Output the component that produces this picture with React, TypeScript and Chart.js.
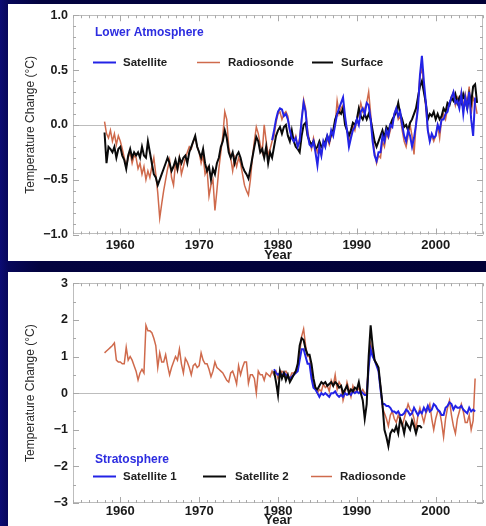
import React, { useEffect, useRef } from "react";
import { Chart, registerables } from "chart.js";

Chart.register(...registerables);

const FONT = "'Liberation Sans', Arial, Helvetica, sans-serif";

// ---------- axes ----------
const xMin = 1954;
const xMax = 2006;
const xTickYears = [1960, 1970, 1980, 1990, 2000];
const lowerYTicks = [-1, -0.5, 0, 0.5, 1];
const stratYTicks = [-3, -2, -1, 0, 1, 2, 3];
const STEP = 0.25; // quarterly data spacing (years)

// ---------- Lower Atmosphere ----------
const lowerRadiosondeStart = 1958.0;
const lowerRadiosonde = [
  0.03, -0.08, -0.12, -0.05,
  -0.15, -0.08, -0.18, -0.1,
  -0.15, -0.22, -0.3, -0.38,
  -0.3, -0.25, -0.35, -0.28,
  -0.3, -0.4, -0.35, -0.45,
  -0.38, -0.5, -0.42, -0.48,
  -0.38, -0.3, -0.45, -0.62,
  -0.85, -0.72, -0.6, -0.5,
  -0.4, -0.32, -0.48, -0.55,
  -0.35, -0.42, -0.3, -0.45,
  -0.38, -0.3, -0.25, -0.2,
  -0.22, -0.15, -0.12, -0.2,
  -0.25, -0.35, -0.28, -0.45,
  -0.4, -0.65, -0.55, -0.5,
  -0.78, -0.6, -0.4, -0.25,
  -0.1, 0.12, 0.05, -0.2,
  -0.3, -0.42, -0.3, -0.38,
  -0.3, -0.35, -0.45, -0.55,
  -0.6, -0.64, -0.5, -0.3,
  -0.15, -0.02, -0.08, -0.18,
  -0.25, 0.0, -0.15, -0.28,
  -0.22, -0.15, -0.1, 0.02,
  0.1, 0.12, 0.05, 0.1,
  0.12, 0.08, -0.05, -0.1,
  -0.15, -0.1, -0.2, -0.12,
  0.05, 0.23, 0.15, -0.05,
  -0.15, -0.22, -0.12, -0.2,
  -0.25, -0.18, -0.28, -0.15,
  -0.2, -0.12, -0.18, -0.1,
  -0.05, 0.0, 0.22, 0.1,
  0.15, 0.18, 0.05, -0.05,
  -0.15, -0.1, 0.0, -0.05,
  0.05, 0.1, 0.2, 0.12,
  0.15, 0.2, 0.3, 0.1,
  -0.1, -0.25, -0.35, -0.28,
  -0.3, -0.15, -0.2, -0.08,
  -0.12, -0.05, 0.02, 0.1,
  0.15, 0.05, 0.08, -0.05,
  -0.15, -0.2, -0.1, 0.0,
  -0.1, -0.27, 0.0, 0.2,
  0.45, 0.52, 0.35, 0.15,
  -0.05, -0.12, -0.1, -0.15,
  -0.1, 0.0, -0.12, 0.05,
  0.1, 0.05, 0.15, 0.2,
  0.25, 0.3, 0.18, 0.25,
  0.2, 0.3, 0.15, 0.28,
  0.2, 0.35, 0.1, 0.25,
  0.2, 0.1,
];

const lowerSurfaceStart = 1958.0;
const lowerSurface = [
  -0.07, -0.35, -0.2, -0.22,
  -0.25, -0.2, -0.3, -0.22,
  -0.2, -0.28, -0.32, -0.4,
  -0.28, -0.22, -0.3, -0.25,
  -0.28, -0.25, -0.3, -0.2,
  -0.28, -0.3, -0.15, -0.25,
  -0.35, -0.45, -0.48, -0.55,
  -0.5, -0.45, -0.4, -0.35,
  -0.3, -0.35, -0.42, -0.38,
  -0.32, -0.4, -0.3, -0.35,
  -0.3, -0.28, -0.35, -0.25,
  -0.2, -0.15, -0.1, -0.2,
  -0.25, -0.3, -0.22, -0.35,
  -0.42, -0.38, -0.5, -0.4,
  -0.45, -0.35, -0.3, -0.2,
  -0.15, -0.05, -0.12, -0.25,
  -0.3, -0.25, -0.35, -0.28,
  -0.25, -0.3, -0.38, -0.42,
  -0.45, -0.49, -0.4, -0.3,
  -0.2, -0.11, -0.15, -0.25,
  -0.22, -0.3, -0.2, -0.35,
  -0.25, -0.3, -0.2, -0.1,
  -0.05, -0.02, -0.08, -0.02,
  0.0, -0.1, -0.15, -0.05,
  -0.15, -0.2, -0.22, -0.25,
  -0.1, 0.0, 0.02, -0.1,
  -0.15, -0.18, -0.15, -0.22,
  -0.2, -0.15, -0.2, -0.18,
  -0.15, -0.1, -0.15, -0.08,
  -0.05, 0.05, 0.1, 0.12,
  0.1, 0.15, 0.0, -0.05,
  -0.1, -0.05, 0.02, 0.0,
  0.05, 0.15, 0.08, 0.05,
  0.1, 0.05, 0.1, 0.05,
  -0.05, -0.15, -0.2, -0.15,
  -0.1, -0.05, -0.12, -0.02,
  -0.05, 0.0, 0.05, 0.08,
  0.12, 0.2, 0.1, 0.05,
  -0.02, 0.0, -0.05, 0.02,
  0.05, 0.1, 0.15, 0.25,
  0.35, 0.4, 0.3, 0.2,
  0.05, 0.1, 0.08, 0.12,
  0.05, 0.1, 0.05, 0.08,
  0.15, 0.12, 0.2, 0.18,
  0.25, 0.22, 0.28, 0.2,
  0.25, 0.2, 0.28, 0.22,
  0.15, 0.28, 0.2, 0.35,
  0.37, 0.2,
];

const lowerSatelliteStart = 1979.25;
const lowerSatellite = [
  -0.14, -0.05, 0.05,
  0.12, 0.15, 0.14, 0.08,
  0.1, 0.05, -0.05, -0.12,
  -0.15, -0.12, -0.2, -0.15,
  0.05, 0.2, 0.12, -0.08,
  -0.18, -0.2, -0.15, -0.25,
  -0.37, -0.2, -0.28, -0.15,
  -0.2, -0.1, -0.15, -0.05,
  -0.1, 0.0, 0.1, 0.15,
  0.2, 0.25, 0.08, -0.05,
  -0.2, -0.12, -0.05, -0.02,
  0.05, 0.0, 0.12, 0.15,
  0.1, 0.2, 0.18, 0.05,
  -0.15, -0.28, -0.33, -0.25,
  -0.25, -0.1, -0.15, -0.05,
  -0.1, 0.0, -0.02, 0.1,
  0.15, 0.08, 0.12, 0.0,
  -0.1, -0.15, -0.05, -0.1,
  -0.2, -0.12, 0.0, 0.15,
  0.45, 0.63, 0.4, 0.2,
  -0.05, -0.15, -0.08, -0.12,
  -0.1, 0.0, -0.05, 0.05,
  0.05, 0.1, 0.12, 0.2,
  0.25, 0.3, 0.2, 0.22,
  0.15, 0.28, 0.1, 0.25,
  0.15, 0.3, 0.05, -0.1,
  0.25,
];

// ---------- Stratosphere ----------
const stratRadiosondeStart = 1958.0;
const stratRadiosonde = [
  1.1, 1.15, 1.2, 1.25,
  1.3, 1.37, 0.9, 0.85,
  0.85, 0.8, 0.8, 1.25,
  0.9, 1.0, 0.9, 0.75,
  0.6, 0.36, 0.55, 0.65,
  0.55, 1.85, 1.7, 1.7,
  1.65, 1.5, 1.3, 0.7,
  1.1, 0.85, 0.85, 1.05,
  0.75, 0.5, 0.7, 0.85,
  1.0, 0.9, 1.2, 0.8,
  0.55, 0.95, 0.85, 0.7,
  0.5, 0.75, 0.8, 0.7,
  0.75, 1.1, 0.9, 0.8,
  0.8, 0.65, 0.45, 0.6,
  0.85, 0.7, 0.65, 0.6,
  0.55, 0.45, 0.35, 0.3,
  0.55, 0.6, 0.45, 0.25,
  0.75, 0.5, 0.7, 0.85,
  0.85, 0.27, 0.5, 0.5,
  0.4, 0.0, 0.6, 0.5,
  0.5, 0.35, 0.55, 0.5,
  0.45, 0.6, 0.5, 0.6,
  0.4, 0.5, 0.6, 0.55,
  0.6, 0.5, 0.4, 0.55,
  0.55, 0.6, 0.7, 1.1,
  1.55, 1.75, 1.3, 1.0,
  1.0, 0.6, 0.2, 0.15,
  0.0, 0.1, 0.05, 0.25,
  0.15, 0.2, 0.05, 0.35,
  0.2, 0.5, 0.1, 0.3,
  0.2, -0.2, 0.0, 0.3,
  0.1, -0.1, 0.2, 0.05,
  0.05, 0.15, 0.0, 0.1,
  0.0, 0.0, 0.9, 1.35,
  1.1, 0.9, 0.8, 0.6,
  0.2, -0.4, -0.55, -0.7,
  -0.9, -0.6, -0.5, -0.7,
  -0.8, -0.6, -0.75, -0.9,
  -0.7, -0.5, -0.3, -0.45,
  -0.5, -0.7, -1.0, -0.6,
  -0.4, -0.6, -0.8, -0.55,
  -0.45, -0.3, -0.7, -1.0,
  -0.7, -0.5, -0.5, -0.8,
  -1.2, -0.7, -0.4, -0.2,
  -0.6, -0.9, -1.1, -0.7,
  -0.5, -0.3, -0.5, -0.8,
  -0.8, -0.6, -1.0, -0.75,
  0.4,
];

const stratSatellite1Start = 1979.5;
const stratSatellite1 = [
  0.65, 0.55,
  0.5, 0.55, 0.45, 0.55,
  0.5, 0.45, 0.4, 0.45,
  0.5, 0.55, 0.6, 0.9,
  1.2, 1.2, 1.0, 0.8,
  0.8, 0.4, 0.15, 0.1,
  0.0, -0.1, 0.0, -0.05,
  0.0, -0.05, -0.1, 0.0,
  0.0, 0.05, -0.05, -0.1,
  -0.05, -0.1, 0.0, -0.05,
  0.0, -0.05, 0.05, 0.0,
  0.05, 0.0, 0.05, 0.0,
  -0.05, -0.05, 0.7, 1.2,
  1.0, 0.9, 0.75, 0.6,
  0.1, -0.3, -0.3, -0.35,
  -0.35, -0.4, -0.5, -0.5,
  -0.55, -0.5, -0.6, -0.6,
  -0.55, -0.45, -0.5, -0.6,
  -0.55, -0.4, -0.5, -0.6,
  -0.5, -0.55, -0.4, -0.5,
  -0.35, -0.5, -0.45, -0.3,
  -0.35, -0.45, -0.5, -0.6,
  -0.6, -0.4, -0.35, -0.25,
  -0.3, -0.45, -0.35, -0.4,
  -0.4, -0.35, -0.45, -0.5,
  -0.55, -0.4, -0.5, -0.45,
  -0.5,
];

const stratSatellite2Start = 1979.5;
const stratSatellite2 = [
  0.6, 0.3,
  -0.05, 0.6, 0.4, 0.55,
  0.35, 0.5, 0.3, 0.4,
  0.5, 0.6, 0.8, 1.3,
  1.5, 1.45, 1.2, 1.05,
  1.05, 0.8, 0.4, 0.15,
  0.1, 0.2, 0.3, 0.25,
  0.3, 0.2, 0.25, 0.3,
  0.2, 0.3, 0.25, 0.15,
  0.2, 0.0, 0.1, 0.2,
  0.0, 0.1, 0.05, 0.15,
  0.1, 0.3, 0.0, -0.2,
  -0.7, -0.3, 1.0, 1.85,
  1.3, 0.9, 0.8, 0.7,
  0.2, -0.3, -1.0, -1.2,
  -1.45, -1.1, -1.0, -1.05,
  -0.9, -1.1, -0.7, -0.85,
  -1.1, -0.8, -0.9, -1.0,
  -0.75, -0.9, -1.1, -0.9,
  -0.9, -0.95,
];

// ---------- colours ----------
const BLUE = "#2323e6";
const RED = "#cf6a4c";
const BLACK = "#0a0a0a";

function toPoints(start: number, values: number[]) {
  return values.map((v, i) => ({ x: start + i * STEP, y: v }));
}

const framePlugin = {
  id: "frame",
  beforeDatasetsDraw(chart: any, _args: any, opts: any) {
    const { ctx, chartArea: a, scales } = chart;
    const x = scales.x;
    const y = scales.y;
    ctx.save();
    ctx.strokeStyle = "#bdbdbd";
    ctx.lineWidth = 1;
    // zero line
    const y0 = Math.round(y.getPixelForValue(0)) + 0.5;
    ctx.beginPath();
    ctx.moveTo(a.left, y0);
    ctx.lineTo(a.right, y0);
    ctx.stroke();
    // frame
    ctx.strokeRect(Math.round(a.left) + 0.5, Math.round(a.top) + 0.5, Math.round(a.right - a.left) - 1, Math.round(a.bottom - a.top) - 1);
    ctx.strokeStyle = "#a8a8a8";
    // x ticks (every year, long every decade)
    for (let yr = Math.ceil(xMin); yr <= xMax; yr += 1) {
      const px = Math.round(x.getPixelForValue(yr)) + 0.5;
      const len = yr % 10 === 0 ? 6 : 3;
      ctx.beginPath();
      ctx.moveTo(px, a.top);
      ctx.lineTo(px, a.top + len);
      ctx.moveTo(px, a.bottom);
      ctx.lineTo(px, a.bottom - len);
      ctx.stroke();
    }
    // y ticks
    const n = Math.round((y.max - y.min) / opts.yMinor);
    for (let i = 0; i <= n; i++) {
      const v = y.min + i * opts.yMinor;
      const py = Math.round(y.getPixelForValue(v)) + 0.5;
      const major = Math.abs(v / opts.yMajor - Math.round(v / opts.yMajor)) < 1e-6;
      const len = major ? 6 : 3;
      ctx.beginPath();
      ctx.moveTo(a.left, py);
      ctx.lineTo(a.left + len, py);
      ctx.moveTo(a.right, py);
      ctx.lineTo(a.right - len, py);
      ctx.stroke();
    }
    ctx.restore();
  },
  afterDatasetsDraw(chart: any, _args: any, opts: any) {
    const { ctx } = chart;
    ctx.save();
    ctx.textBaseline = "middle";
    ctx.textAlign = "left";
    ctx.font = `bold 12px ${FONT}`;
    ctx.fillStyle = "#2d2de0";
    ctx.fillText(opts.title, opts.titleX, opts.titleY);
    ctx.font = `bold 11.5px ${FONT}`;
    for (const it of opts.items) {
      ctx.strokeStyle = it.color;
      ctx.lineWidth = it.width;
      ctx.beginPath();
      ctx.moveTo(it.x0, opts.rowY + 0.5);
      ctx.lineTo(it.x1, opts.rowY + 0.5);
      ctx.stroke();
      ctx.fillStyle = "#1e1e1e";
      ctx.fillText(it.label, it.tx, opts.rowY + 0.5);
    }
    ctx.restore();
  },
};

function fmtLower(v: number) {
  const s = Math.abs(v).toFixed(1);
  return v < 0 ? "\u2212" + s : s;
}
function fmtStrat(v: number) {
  const s = Math.abs(v).toFixed(0);
  return v < 0 ? "\u2212" + s : s;
}

function makeConfig(p: any) {
  return {
    type: "line",
    data: { datasets: p.datasets },
    options: {
      animation: false,
      responsive: false,
      events: [],
      layout: { padding: { left: 0, right: 3, top: p.padTop, bottom: 0 } },
      elements: { point: { radius: 0 }, line: { tension: 0 } },
      plugins: {
        legend: { display: false },
        tooltip: { enabled: false },
        frame: p.frame,
      },
      scales: {
        x: {
          type: "linear",
          min: xMin,
          max: xMax,
          grid: { display: false, drawTicks: false },
          border: { display: false },
          afterBuildTicks: (s: any) => {
            s.ticks = xTickYears.map((v) => ({ value: v }));
          },
          afterFit: (s: any) => {
            s.height = p.xHeight;
          },
          ticks: {
            padding: p.xTickPad,
            autoSkip: false,
            maxRotation: 0,
            color: "#1a1a1a",
            font: { family: FONT, size: 13, weight: "bold", lineHeight: 1 },
            callback: (v: any) => String(v),
          },
          title: {
            display: true,
            text: "Year",
            color: "#1a1a1a",
            padding: 0,
            font: { family: FONT, size: 13, weight: "bold", lineHeight: 0.8 },
          },
        },
        y: {
          min: p.yMin,
          max: p.yMax,
          grid: { display: false, drawTicks: false },
          border: { display: false },
          afterBuildTicks: (s: any) => {
            s.ticks = p.yTicks.map((v: number) => ({ value: v }));
          },
          afterFit: (s: any) => {
            s.width = 65;
          },
          ticks: {
            padding: 5,
            color: "#1a1a1a",
            font: { family: FONT, size: 12.5, weight: "bold", lineHeight: 1 },
            callback: p.fmt,
          },
          title: {
            display: true,
            text: "Temperature Change (\u00B0C)",
            color: "#2a2a2a",
            padding: { top: 15, bottom: 0 },
            font: { family: FONT, size: 12, weight: "normal", lineHeight: 1.2 },
          },
        },
      },
    },
    plugins: [framePlugin],
  };
}

function line(label: string, color: string, width: number, order: number, data: any[]) {
  return { label, data, borderColor: color, borderWidth: width, order, fill: false, pointRadius: 0, spanGaps: false };
}

const lowerConfig = () =>
  makeConfig({
    padTop: 8,
    xHeight: 26.5,
    xTickPad: 4,
    yMin: -1,
    yMax: 1,
    yTicks: lowerYTicks,
    fmt: fmtLower,
    frame: {
      yMinor: 0.1,
      yMajor: 0.5,
      title: "Lower Atmosphere",
      titleX: 87,
      titleY: 29,
      rowY: 58,
      items: [
        { label: "Satellite", color: BLUE, width: 2, x0: 85, x1: 108, tx: 115 },
        { label: "Radiosonde", color: RED, width: 1.5, x0: 189, x1: 212, tx: 220 },
        { label: "Surface", color: BLACK, width: 2, x0: 304, x1: 325, tx: 333 },
      ],
    },
    datasets: [
      line("Radiosonde", RED, 1.5, 3, toPoints(lowerRadiosondeStart, lowerRadiosonde)),
      line("Surface", BLACK, 2, 2, toPoints(lowerSurfaceStart, lowerSurface)),
      line("Satellite", BLUE, 2, 1, toPoints(lowerSatelliteStart, lowerSatellite)),
    ],
  });

const stratConfig = () =>
  makeConfig({
    padTop: 7,
    xHeight: 23,
    xTickPad: 2,
    yMin: -3,
    yMax: 3,
    yTicks: stratYTicks,
    fmt: fmtStrat,
    frame: {
      yMinor: 0.5,
      yMajor: 1,
      title: "Stratosphere",
      titleX: 87,
      titleY: 188,
      rowY: 204,
      items: [
        { label: "Satellite 1", color: BLUE, width: 2, x0: 85, x1: 108, tx: 115 },
        { label: "Satellite 2", color: BLACK, width: 2, x0: 195, x1: 218, tx: 227 },
        { label: "Radiosonde", color: RED, width: 1.5, x0: 303, x1: 324, tx: 332 },
      ],
    },
    datasets: [
      line("Radiosonde", RED, 1.5, 3, toPoints(stratRadiosondeStart, stratRadiosonde)),
      line("Satellite 1", BLUE, 2, 2, toPoints(stratSatellite1Start, stratSatellite1)),
      line("Satellite 2", BLACK, 2, 1, toPoints(stratSatellite2Start, stratSatellite2)),
    ],
  });

function Panel({ make, left, top, width, height }: any) {
  const ref = useRef<HTMLCanvasElement | null>(null);
  useEffect(() => {
    const chart = new Chart(ref.current as HTMLCanvasElement, make() as any);
    return () => chart.destroy();
  }, []);
  return (
    <div style={{ position: "absolute", left, top, width, height, background: "#ffffff", overflow: "hidden" }}>
      <canvas ref={ref} width={width} height={height} style={{ display: "block", width, height }} />
    </div>
  );
}

export default function App() {
  return (
    <div
      style={{
        position: "fixed",
        left: 0,
        top: 0,
        width: 486,
        height: 526,
        overflow: "hidden",
        background: "linear-gradient(90deg, #0b0b74 0px, #07075a 8px, #03033f 40px, #010136 100%)",
      }}
    >
      <Panel make={lowerConfig} left={8} top={4} width={478} height={257} />
      <Panel make={stratConfig} left={8} top={272} width={478} height={254} />
    </div>
  );
}
